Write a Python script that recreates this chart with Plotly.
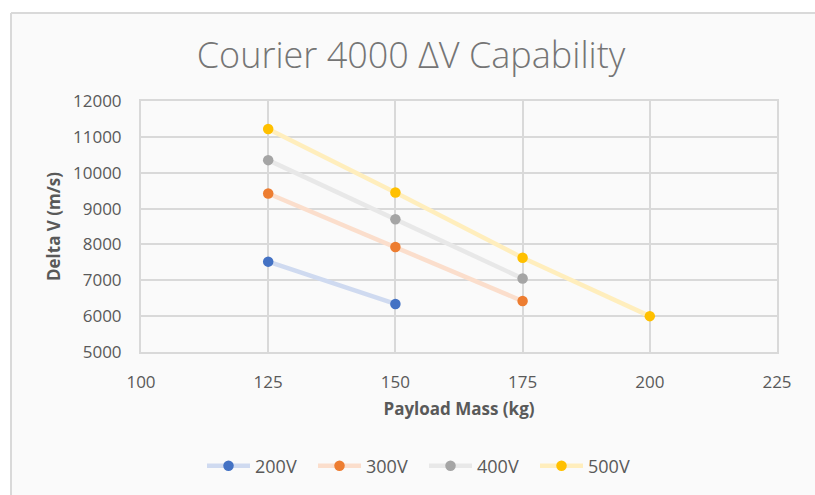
import plotly.graph_objects as go

payload_mass = [125, 150, 175, 200]
series_names = ["200V", "300V", "400V", "500V"]
dv_200 = [7520, 6340]
dv_300 = [9420, 7930, 6420]
dv_400 = [10350, 8700, 7050]
dv_500 = [11220, 9450, 7630, 6000]
x_ticks = [100, 125, 150, 175, 200, 225]
y_ticks = [5000, 6000, 7000, 8000, 9000, 10000, 11000, 12000]

series_values = [dv_200, dv_300, dv_400, dv_500]
marker_colors = ["#4472C4", "#ED7D31", "#A5A5A5", "#FFC000"]
line_colors = ["#CFDAF0", "#FBDECC", "#E8E8E8", "#FFEEBD"]

W, H = 815, 495
ML, MR, MT, MB = 141, 38, 101, 143

fig = go.Figure()
for name, vals, mc, lc in zip(series_names, series_values, marker_colors, line_colors):
    fig.add_trace(go.Scatter(
        x=payload_mass[:len(vals)], y=vals, name=name, mode="lines+markers",
        line=dict(color=lc, width=4.5),
        marker=dict(color=mc, size=10.5),
    ))

pw = W - ML - MR
ph = H - MT - MB
def px_to_paper_x(px):
    return (px - ML) / pw
def px_to_paper_y(py):
    return (H - MB - py) / ph

# chart container: light fill with border on top and left edges (others run off-screen)
fig.add_shape(type="rect", xref="paper", yref="paper",
              x0=px_to_paper_x(11), x1=px_to_paper_x(840),
              y0=px_to_paper_y(520), y1=px_to_paper_y(13),
              line=dict(width=0), fillcolor="#FAFAFA", layer="below")
fig.add_shape(type="line", xref="paper", yref="paper",
              x0=px_to_paper_x(11), x1=px_to_paper_x(840),
              y0=px_to_paper_y(13), y1=px_to_paper_y(13),
              line=dict(color="#D9D9D9", width=2), layer="below")
fig.add_shape(type="line", xref="paper", yref="paper",
              x0=px_to_paper_x(11), x1=px_to_paper_x(11),
              y0=px_to_paper_y(13), y1=px_to_paper_y(520),
              line=dict(color="#D9D9D9", width=2), layer="below")

grid = "#D9D9D9"
axis_common = dict(showgrid=True, gridcolor=grid, gridwidth=2, zeroline=False,
                   showline=True, linecolor=grid, linewidth=2, mirror=True, ticks="",
                   tickfont=dict(size=17, color="#595959"), ticklabelstandoff=14)
fig.update_layout(
    width=W, height=H,
    margin=dict(l=ML, r=MR, t=MT, b=MB, autoexpand=False),
    paper_bgcolor="white", plot_bgcolor="rgba(0,0,0,0)",
    font=dict(family="Open Sans", color="#595959", size=17),
    title=dict(text="Courier 4000 ΔV Capability", x=411 / W, xref="container", xanchor="center",
               y=1 - 55 / H, yref="container", yanchor="middle",
               font=dict(family="Open Sans", size=36, color="#757575", weight=300)),
    xaxis=dict(range=[100, 225], tickvals=x_ticks, ticktext=[str(v) for v in x_ticks],
               title=dict(text="<b>Payload Mass (kg)</b>", font=dict(size=17, color="#595959"), standoff=11),
               **axis_common),
    yaxis=dict(range=[5000, 12000], tickvals=y_ticks, ticktext=[str(v) for v in y_ticks],
               title=dict(text="<b>Delta V (m/s)</b>", font=dict(size=17, color="#595959"), standoff=8),
               **axis_common),
    legend=dict(orientation="h", x=px_to_paper_x(202), xanchor="left", y=px_to_paper_y(466), yanchor="middle",
                font=dict(size=18, color="#595959"), itemwidth=43, entrywidth=53, entrywidthmode="pixels",
                bgcolor="rgba(0,0,0,0)"),
    showlegend=True,
)

fig.write_html("out.html", config={"displayModeBar": False},
               post_script="document.body.style.margin='0';document.body.style.overflow='hidden';")
